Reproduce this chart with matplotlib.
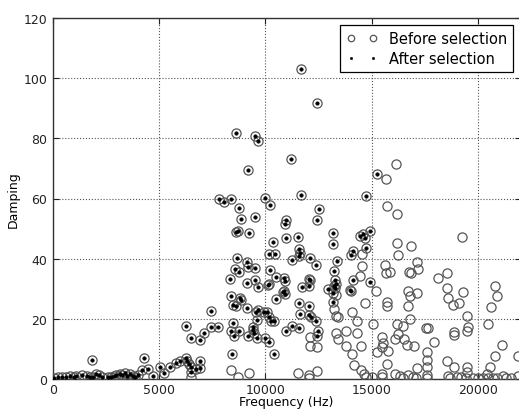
import numpy as np
import matplotlib
matplotlib.use("Agg")
import matplotlib.pyplot as plt

# Points that survived the selection (drawn in both series)
sel_freq = [11665, 12420, 8632, 9495, 9651, 11226, 9165, 15250, 14717, 7811, 8047, 8396,
            9981, 10236, 11679, 8773, 8850, 9528, 12514, 12434, 10973, 10943, 8599, 8726,
            9226, 13189, 13189, 10377, 10973, 11538, 14462, 14590, 14698, 14935, 14731,
            14103, 14024, 8679, 9151, 10189, 10453, 11632, 11604, 11580, 11255, 12123,
            12373, 13349, 13222, 8566, 8755, 9165, 9528, 10236, 8349, 9151, 9528, 10156,
            10486, 10925, 10900, 12090, 13283, 13302, 13269, 13160, 13160, 14103, 14935,
            14024, 9637, 10142, 10863, 11726, 12042, 12075, 12925, 13222, 13991, 8379,
            8803, 8835, 8458, 8632, 9151, 9543, 9651, 9920, 10094, 10170, 10250, 10392,
            10486, 10925, 11571, 12042, 11618, 12042, 12151, 12387, 12481, 12434, 11255,
            11604, 10958, 9434, 9401, 9462, 9590, 9620, 8458, 8363, 8538, 8773, 9180,
            9981, 10170, 10406, 8410, 10830,
            7467, 7797, 7434, 7137, 6934, 6509, 6274, 6948, 6934, 6726, 6509, 6509, 6396,
            6320, 6255, 6005, 5783, 5533, 5217, 5028, 4698, 4462, 4179, 4274, 1868,
            76, 264, 439, 627, 816, 1019, 1085, 1368, 1604, 1759, 1915, 2042, 2198, 2311,
            2623, 2750, 2892, 2986, 3142, 3255, 3377, 3491, 3613, 3774, 3882, 3991]
sel_damp = [103.0, 91.9, 81.8, 80.9, 79.0, 73.2, 69.5, 68.3, 60.9, 59.8, 58.8, 59.8,
            60.2, 57.9, 61.1, 56.7, 53.2, 54.0, 56.4, 52.9, 52.8, 51.4, 48.8, 49.2,
            48.4, 48.6, 44.9, 45.7, 46.8, 47.2, 47.6, 48.1, 46.8, 49.2, 43.4,
            42.4, 41.1, 40.2, 38.9, 41.7, 41.7, 41.9, 40.9, 43.2, 39.5, 40.3,
            37.9, 39.1, 35.8, 36.7, 35.5, 37.1, 36.9, 36.3, 33.2, 31.9, 32.9, 31.6,
            33.8, 32.7, 33.5, 33.0, 32.9, 31.5, 30.1, 28.6, 25.5, 33.0, 32.1,
            29.4, 30.7, 31.2, 29.2, 30.7, 31.0, 33.1, 29.9, 30.8, 29.5, 27.7,
            26.8, 26.3, 24.6, 24.4, 23.5, 22.4, 22.8, 22.4, 22.4, 20.5, 19.4, 19.3,
            26.6, 28.3, 25.2, 24.4, 21.5, 21.3, 20.5, 19.3, 16.1, 14.3, 17.7,
            16.9, 15.9, 17.4, 16.4, 15.3, 13.5, 19.7, 18.6, 16.1, 14.2, 16.1, 14.2,
            13.5, 12.4, 8.2, 8.3, 28.8,
            22.7, 17.4, 17.2, 15.2, 13.1, 13.7, 17.5, 6.1, 3.6, 3.3, 2.2, 3.9, 5.0,
            6.1, 6.9, 6.1, 5.3, 3.9, 2.0, 4.1, 0.9, 3.3, 3.1, 7.0, 6.3,
            0.4, 0.5, 0.6, 0.7, 0.9, 0.8, 1.1, 1.3, 1.0, 0.8, 0.6, 1.5, 1.2, 0.5,
            0.6, 0.8, 1.0, 1.4, 1.8, 1.2, 2.0, 1.1, 1.6, 0.9, 0.6, 1.3]

# Points removed by the selection (only in "before")
rej_freq = [8363, 8708, 9212, 11540, 12075, 12075, 12420, 12090, 12090, 12453, 13330,
            13236, 13302, 13425, 13316, 13396, 13802, 13773, 14085, 14151, 14321, 14495,
            14307, 14670, 14462, 14557, 14528, 14481, 14623, 14745, 15000, 15472, 15472,
            14071, 16161, 15675, 15707, 16179, 19259, 16208, 16840, 16255, 17156, 17203,
            15642, 15689, 15849, 16745, 16854, 18142, 18552, 18566, 18613, 18835, 19085,
            19307, 19462, 19509, 19481, 20783, 20896, 20613, 20472, 21146, 20783, 20580,
            21900, 16698, 16792, 16712, 17156, 16807, 15736, 15722, 15203, 15075, 16208,
            16476, 17547, 17655, 17953, 18882, 18867, 16113, 16226, 16524, 16679, 17009,
            15500, 15519, 15472, 15236, 15755, 15707, 17623, 17594, 17608, 17156, 18566,
            18882, 19462, 19462, 20439, 16113, 16321, 16462, 16698, 16934, 17100, 17608,
            17608, 18585, 18700, 19024, 19200, 19448, 19764, 20000, 20236, 20472, 20708,
            20896, 21179, 21335, 21571, 21887, 6524]
rej_damp = [2.9, 0.6, 2.0, 2.0, 1.4, 0.3, 2.8, 14.0, 11.1, 10.6, 27.9,
            23.3, 21.0, 20.7, 15.3, 13.3, 16.1, 11.1, 8.3, 4.7, 15.2, 11.1,
            19.2, 25.2, 34.3, 37.7, 41.6, 2.9, 1.6, 0.7, 0.5, 0.7, 1.5,
            22.4, 71.4, 66.5, 57.4, 54.7, 47.1, 45.1, 44.1, 41.1, 39.0, 36.5,
            37.8, 35.2, 35.5, 35.5, 35.3, 33.7, 35.3, 30.1, 26.8, 24.6, 25.2,
            28.8, 21.0, 17.3, 16.1, 30.9, 27.7, 23.8, 18.2, 11.2, 7.5, 4.1,
            7.7, 29.4, 27.7, 24.2, 28.6, 19.8, 25.7, 24.4, 29.4, 18.3, 18.3,
            17.5, 17.1, 17.1, 12.2, 15.5, 14.5, 13.3, 14.9, 13.3, 11.3, 11.1,
            13.9, 12.0, 10.5, 8.9, 9.2, 5.0, 8.9, 6.4, 4.1, 3.6, 6.1,
            4.0, 3.9, 2.2, 1.8, 1.6, 0.9, 0.4, 1.3, 0.7, 0.4, 1.3,
            0.4, 1.1, 0.4, 0.7, 0.7, 0.4, 0.4, 0.4, 0.4, 0.4, 0.4,
            0.4, 0.9, 0.4, 0.4, 0.9, 0.6]

before_freq = rej_freq + sel_freq
before_damp = rej_damp + sel_damp

xticks = [0, 5000, 10000, 15000, 20000]
yticks = [0, 20, 40, 60, 80, 100, 120]

plt.rcParams['font.family'] = ['DejaVu Sans']
fig = plt.figure(figsize=(5.19, 4.10), dpi=100)
ax = fig.add_axes([52.7 / 519, 30 / 410, (520.5 - 52.7) / 519, 361 / 410])

ax.plot(before_freq, before_damp, linestyle='none', marker='o', markersize=6.6,
        markerfacecolor='none', markeredgecolor='#555555', markeredgewidth=0.9,
        label='Before selection', zorder=3)
ax.plot(sel_freq, sel_damp, linestyle='none', marker='o', markersize=2.6,
        markerfacecolor='black', markeredgecolor='black', markeredgewidth=0.3,
        label='After selection', zorder=4)

ax.set_xlim(0, 22000)
ax.set_ylim(0, 120)
ax.set_xticks(xticks)
ax.set_yticks(yticks)
ax.tick_params(direction='in', top=True, right=True, length=4, width=0.8,
               labelsize=9.0, colors='#222222')
ax.tick_params(axis='x', pad=3)
ax.tick_params(axis='y', pad=4)
ax.grid(True, linestyle=':', color='#555555', linewidth=0.8)
ax.set_axisbelow(True)
for s in ax.spines.values():
    s.set_linewidth(1.0)
    s.set_color('#333333')
ax.spines['right'].set_visible(False)

ax.set_xlabel('Frequency (Hz)', fontsize=9.0, labelpad=-1)
ax.set_ylabel('Damping', fontsize=9.0, labelpad=2.5)

leg = ax.legend(loc='upper right', numpoints=2, fontsize=10.5, markerscale=0.7,
                fancybox=False, framealpha=1, edgecolor='black',
                borderaxespad=0.5, handlelength=2.1, handletextpad=0.8,
                borderpad=0.42, labelspacing=0.32)
leg.get_frame().set_linewidth(0.9)

fig.savefig('out.png', dpi=100, facecolor='white')
